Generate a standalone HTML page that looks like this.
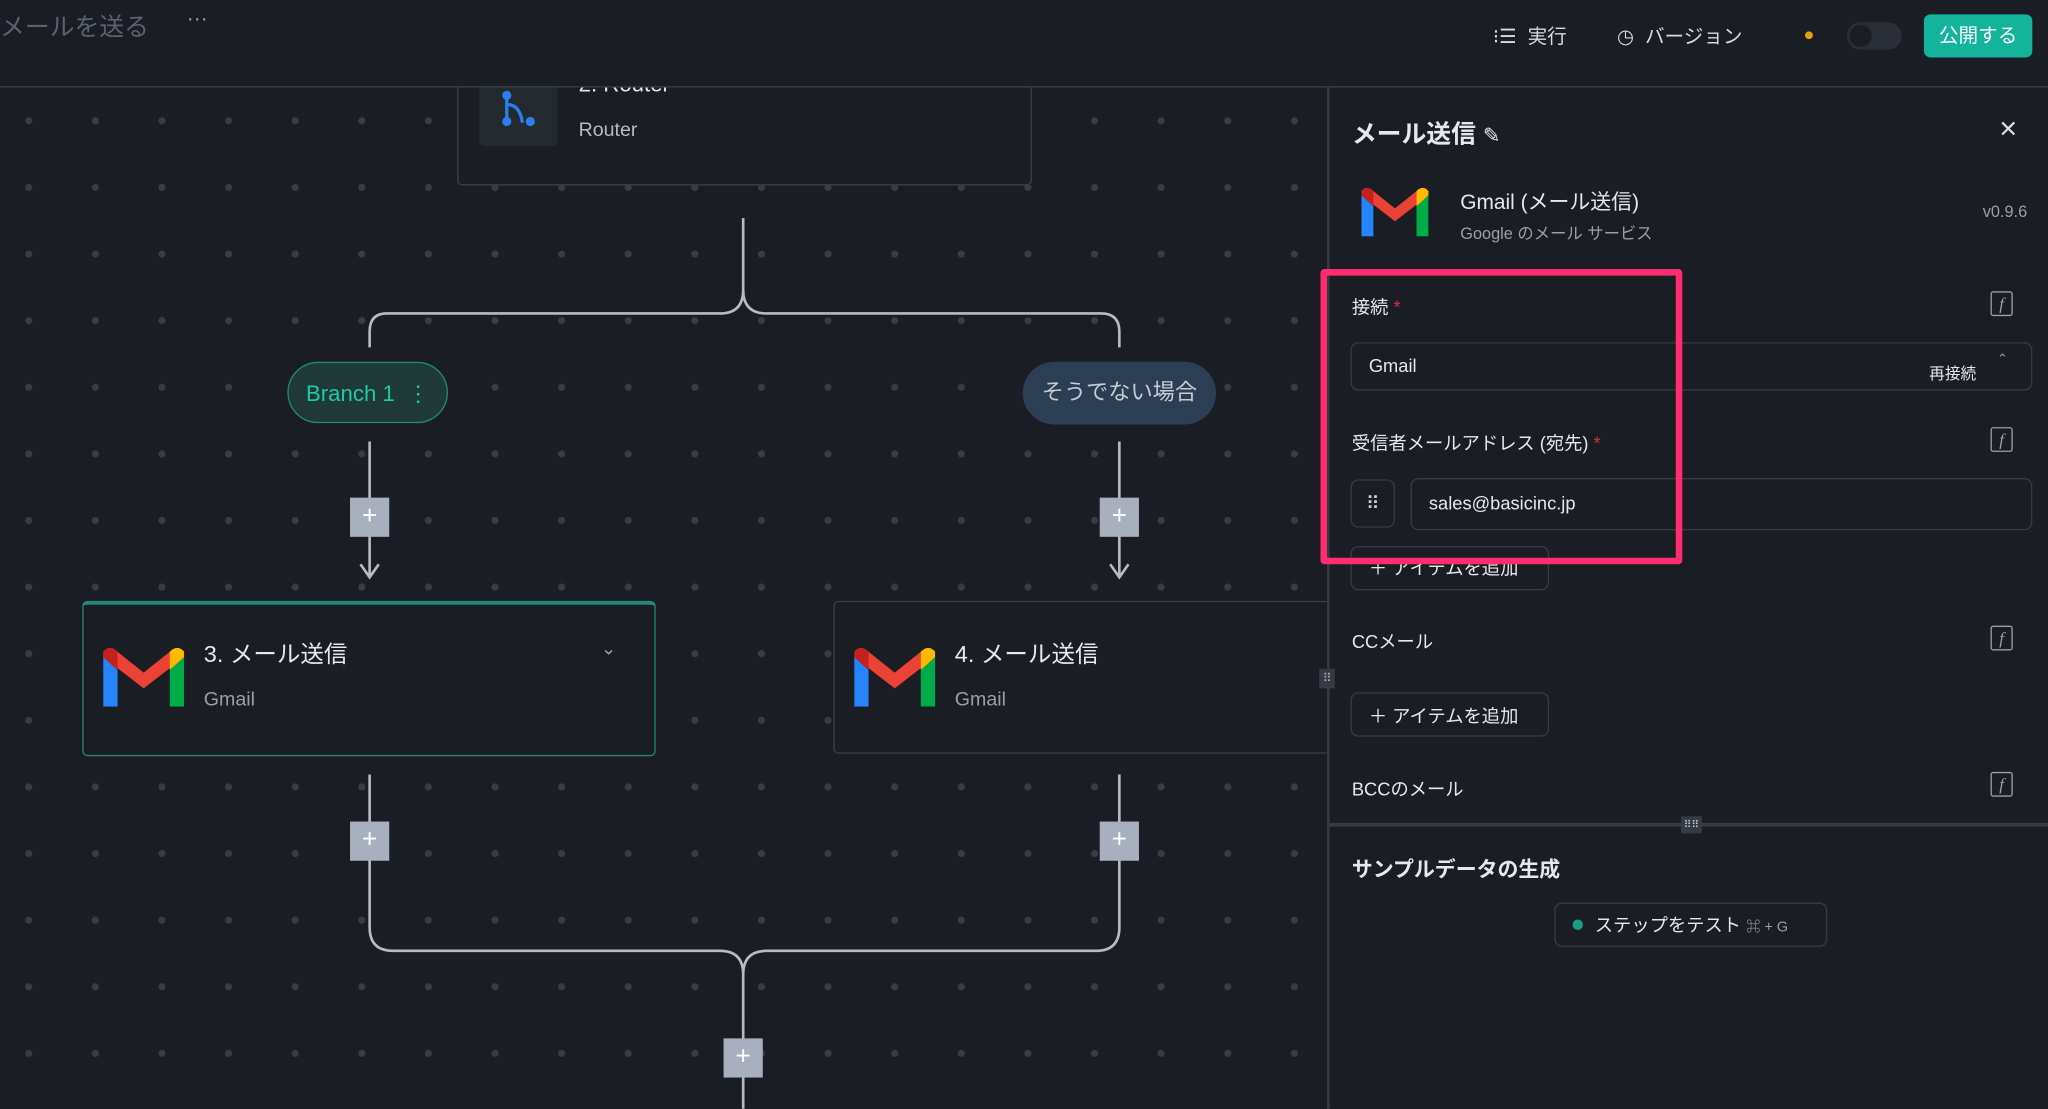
<!DOCTYPE html>
<html><head><meta charset="utf-8"><style>
html,body{margin:0;padding:0;background:#1b1d24;overflow:hidden;width:2048px;height:1109px}
#w{position:absolute;left:0;top:0;width:1568px;height:849px;transform:scale(1.30612);transform-origin:0 0;font-family:"Liberation Sans","Noto Sans CJK JP",sans-serif;color:#e6e8ec;background:#1b1d24;overflow:hidden}
.a{position:absolute}
.dots{position:absolute;left:0;top:67px;width:1016px;height:782px;background-image:radial-gradient(circle,#3a3d45 2.4px,transparent 3px);background-size:51px 51px;background-position:-3.5px 0px}
.card{position:absolute;background:#1b1d24;border:1px solid #3a3f48;border-radius:4px}
.plus{position:absolute;width:30px;height:30px;background:#a8b0bd;color:#fff;font-size:20px;line-height:29px;text-align:center}
.fx{position:absolute;width:15px;height:17px;border:1.5px solid #9aa0a8;border-radius:2px;color:#9aa0a8;font-size:13px;font-style:italic;text-align:center;line-height:17px;font-family:"Liberation Serif",serif}
.lbl{position:absolute;font-size:15px;color:#e6e8ec}
.btn{position:absolute;border:1px solid #363b44;border-radius:6px}
.hdr{z-index:5}
</style></head><body><div id="w">
<div class="dots"></div>

<!-- router card -->
<div class="card" style="left:350px;top:30px;width:438px;height:110px"></div>
<div class="a" style="left:367px;top:60px;width:60px;height:52px;background:#222a2f;border-radius:4px"></div>
<svg class="a" style="left:378px;top:66px" width="40" height="34"><path d="M10 4 V28 M10 14 Q20 14 22 28" stroke="#2a7ef0" stroke-width="2.5" fill="none"/><circle cx="10" cy="7" r="3.5" fill="#2a7ef0"/><circle cx="10" cy="27" r="3.5" fill="#2a7ef0"/><circle cx="28" cy="27" r="3.5" fill="#2a7ef0"/></svg>
<div class="a" style="left:443px;top:55px;font-size:17px;color:#e6e8ec">2. Router</div>
<div class="a" style="left:750px;top:56px;font-size:12px;color:#9aa0a8">⌄</div>
<div class="a" style="left:443px;top:91px;font-size:15px;color:#b6bbc3">Router</div>

<!-- header -->
<div class="a hdr" style="left:0;top:0;width:1568px;height:66px;background:#1b1d24;border-bottom:1px solid #3a3f48"></div>
<div class="a hdr" style="left:0;top:6px;font-size:19px;color:#5a626e">メールを送る</div>
<div class="a hdr" style="left:143px;top:6px;font-size:16px;color:#9aa0a8">···</div>
<div class="a hdr" style="left:1143px;top:17px;font-size:15px;color:#d8dbe0">⁝☰&nbsp; 実行</div>
<div class="a hdr" style="left:1238px;top:17px;font-size:15px;color:#d8dbe0">◷&nbsp; バージョン</div>
<div class="a hdr" style="left:1382px;top:24px;width:6px;height:6px;border-radius:50%;background:#e0a010"></div>
<div class="a hdr" style="left:1414px;top:17px;width:42px;height:21px;border-radius:11px;background:#2a2e36"><div class="a" style="left:2px;top:2px;width:17px;height:17px;border-radius:50%;background:#1b1d24"></div></div>
<div class="a hdr" style="left:1473px;top:11px;width:83px;height:33px;border-radius:5px;background:#13b39c;color:#fff;font-size:15px;line-height:33px;text-align:center">公開する</div>

<!-- connectors -->
<svg class="a" style="left:0;top:0" width="1016" height="849">
<g stroke="#b8bcc2" stroke-width="2" fill="none">
<path d="M569 167 V222 Q569 240 551 240 H296 Q283 240 283 254 V266"/>
<path d="M569 222 Q569 240 587 240 H843 Q857 240 857 254 V266"/>
<path d="M283 338 V440 M276 432 L283 442 L290 432"/>
<path d="M857 338 V440 M850 432 L857 442 L864 432"/>
<path d="M283 593 V710 Q283 728 301 728 H551 Q569 728 569 746 V849"/>
<path d="M857 593 V710 Q857 728 839 728 H587 Q569 728 569 746"/>
</g></svg>
<div class="plus" style="left:268px;top:381px">+</div>
<div class="plus" style="left:842px;top:381px">+</div>
<div class="plus" style="left:268px;top:629px">+</div>
<div class="plus" style="left:842px;top:629px">+</div>
<div class="plus" style="left:554px;top:795px">+</div>

<div class="a" style="left:220px;top:277px;width:123px;height:47px;border:1.5px solid #1f8a77;background:#1f3a36;border-radius:24px;color:#1ec9a6;font-size:17px;line-height:47px;text-align:center;box-sizing:border-box">Branch 1 &nbsp;⋮</div>
<div class="a" style="left:783px;top:277px;width:148px;height:48px;background:#2b3e54;border-radius:24px;color:#c7ccd3;font-size:17px;line-height:48px;text-align:center">そうでない場合</div>

<!-- email cards -->
<div class="card" style="left:63px;top:460px;width:437px;height:115px;border-color:#1f8a77;border-top:3px solid #1f8a77"></div>
<div class="card" style="left:638px;top:460px;width:400px;height:115px"></div>
<svg class="a" style="left:79px;top:495px" width="62" height="46" viewBox="0 0 62 46"><path d="M0 8 V46 H11 V18Z" fill="#2684fc"/><path d="M51 18 V46 H62 V8Z" fill="#00ac47"/><path d="M0 8 L31 32 L62 8 L62 4 Q57 -2 51 4 L31 20 L11 4 Q5 -2 0 4Z" fill="#ea4335"/><path d="M51 4 Q57 -2 62 4 V8 L51 18Z" fill="#ffba00"/><path d="M0 4 Q5 -2 11 4 V18 L0 8Z" fill="#c5221f"/></svg>
<svg class="a" style="left:654px;top:495px" width="62" height="46" viewBox="0 0 62 46"><path d="M0 8 V46 H11 V18Z" fill="#2684fc"/><path d="M51 18 V46 H62 V8Z" fill="#00ac47"/><path d="M0 8 L31 32 L62 8 L62 4 Q57 -2 51 4 L31 20 L11 4 Q5 -2 0 4Z" fill="#ea4335"/><path d="M51 4 Q57 -2 62 4 V8 L51 18Z" fill="#ffba00"/><path d="M0 4 Q5 -2 11 4 V18 L0 8Z" fill="#c5221f"/></svg>
<div class="a" style="left:156px;top:487px;font-size:18px">3. メール送信</div>
<div class="a" style="left:156px;top:527px;font-size:15px;color:#9aa0a8">Gmail</div>
<div class="a" style="left:460px;top:488px;font-size:14px;color:#9aa0a8">⌄</div>
<div class="a" style="left:731px;top:487px;font-size:18px">4. メール送信</div>
<div class="a" style="left:731px;top:527px;font-size:15px;color:#9aa0a8">Gmail</div>

<!-- right panel -->
<div class="a" style="left:1016px;top:67px;width:552px;height:782px;background:#1b1d24;border-left:2px solid #353a43"></div>
<div class="a" style="left:1010px;top:512px;width:12px;height:15px;background:#353a43;color:#aab;font-size:9px;text-align:center;line-height:15px">⠿</div>
<div class="a" style="left:1035px;top:88px;font-size:19px;font-weight:bold">メール送信 <span style="font-weight:normal;font-size:16px">✎</span></div>
<div class="a" style="left:1530px;top:89px;font-size:18px;color:#d8dbe0">✕</div>
<svg class="a" style="left:1042px;top:143px" width="52" height="38" viewBox="0 0 62 46"><path d="M0 8 V46 H11 V18Z" fill="#2684fc"/><path d="M51 18 V46 H62 V8Z" fill="#00ac47"/><path d="M0 8 L31 32 L62 8 L62 4 Q57 -2 51 4 L31 20 L11 4 Q5 -2 0 4Z" fill="#ea4335"/><path d="M51 4 Q57 -2 62 4 V8 L51 18Z" fill="#ffba00"/><path d="M0 4 Q5 -2 11 4 V18 L0 8Z" fill="#c5221f"/></svg>
<div class="a" style="left:1118px;top:141px;font-size:16px">Gmail (メール送信)</div>
<div class="a" style="left:1118px;top:168px;font-size:12.5px;color:#9aa0a8">Google のメール サービス</div>
<div class="a" style="left:1518px;top:155px;font-size:12.5px;color:#9aa0a8">v0.9.6</div>

<div class="lbl" style="left:1035px;top:225px;font-size:14px">接続 <span style="color:#e0303a">*</span></div>
<div class="fx" style="left:1524px;top:223px">f</div>
<div class="btn" style="left:1034px;top:262px;width:520px;height:35px"></div>
<div class="lbl" style="left:1048px;top:272px;font-size:14px">Gmail</div>
<div class="lbl" style="left:1477px;top:277px;font-size:12px">再接続</div>
<div class="lbl" style="left:1529px;top:270px;font-size:10px;color:#9aa0a8">⌃<br></div>
<div class="lbl" style="left:1035px;top:329px;font-size:14px">受信者メールアドレス (宛先) <span style="color:#e0303a">*</span></div>
<div class="fx" style="left:1524px;top:327px">f</div>
<div class="btn" style="left:1034px;top:367px;width:32px;height:35px;color:#ccc;font-size:14px;text-align:center;line-height:35px">⠿</div>
<div class="btn" style="left:1080px;top:366px;width:474px;height:38px"></div>
<div class="lbl" style="left:1094px;top:377px;font-size:14px">sales@basicinc.jp</div>
<div class="btn" style="left:1034px;top:418px;width:150px;height:32px"></div>
<div class="lbl" style="left:1048px;top:425px;font-size:14px">＋ アイテムを追加</div>
<div class="a" style="left:1011px;top:206px;width:267px;height:216px;border:5px solid #ff2d6f;border-radius:3px"></div>

<div class="lbl" style="left:1035px;top:481px;font-size:14px">CCメール</div>
<div class="fx" style="left:1524px;top:479px">f</div>
<div class="btn" style="left:1034px;top:530px;width:150px;height:32px"></div>
<div class="lbl" style="left:1048px;top:538px;font-size:14px">＋ アイテムを追加</div>
<div class="lbl" style="left:1035px;top:594px;font-size:14px">BCCのメール</div>
<div class="fx" style="left:1524px;top:591px">f</div>
<div class="a" style="left:1018px;top:630px;width:550px;height:3px;background:#353a43"></div>
<div class="a" style="left:1287px;top:625px;width:16px;height:13px;background:#353a43;color:#ccd;font-size:8px;text-align:center;line-height:13px">⠿⠿</div>
<div class="a" style="left:1035px;top:652px;font-size:16px;font-weight:bold">サンプルデータの生成</div>
<div class="btn" style="left:1190px;top:691px;width:207px;height:32px"></div>
<div class="a" style="left:1204px;top:704px;width:8px;height:8px;border-radius:50%;background:#1f9a84"></div>
<div class="lbl" style="left:1221px;top:698px;font-size:14px">ステップをテスト <span style="font-size:11px;color:#9aa0a8">⌘ + G</span></div>
</div></body></html>
